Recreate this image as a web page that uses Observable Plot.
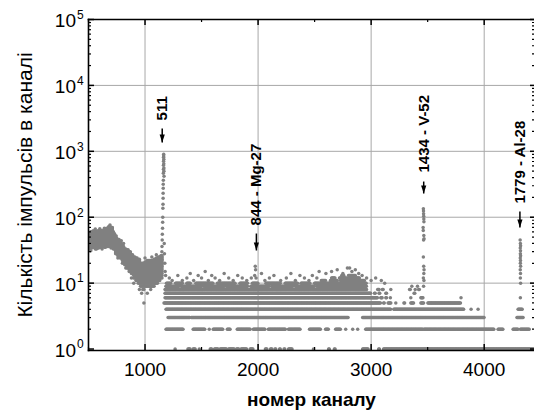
<!DOCTYPE html>
<html><head><meta charset="utf-8">
<script src="https://cdn.jsdelivr.net/npm/d3@7"></script>
<script src="https://cdn.jsdelivr.net/npm/@observablehq/plot@0.6"></script>
<style>
html,body{margin:0;padding:0;background:#fff;}
#chart svg{display:block;}
</style>
</head><body><div id="chart"></div>
<script>
// ---------- data ----------
const xTicks = [1000, 2000, 3000, 4000];
const xMinorTicks = [500, 1500, 2500, 3500];
const yTicks = [1, 10, 100, 1000, 10000, 100000];
const xTitle = "номер каналу";
const yTitle = "Кількість імпульсів в каналі";

// dense continuum below the 511 peak: channel bins with the low / high count of the dot cloud
const blobChannels = [500,520,540,560,580,600,620,640,660,680,700,720,740,760,780,800,820,840,860,880,900,920,940,960,980,1000,1020,1040,1060,1080,1100,1120,1140];
const blobLow  = [33,34,35,33,34,35,36,35,36,36,38,33,28,26,24,22,19,17,15,14,12,11,10, 9, 8, 9, 9, 9, 9,10,10,11,12];
const blobHigh = [58,60,62,60,62,63,62,64,68,72,70,56,48,44,40,36,33,32,30,27,25,24,22,20,20,21,22,22,22,23,24,25,26];
const blobOutliers = [[560,66],[600,67],[640,68],[690,76],[720,60],[745,52],[770,46],[790,44],[810,40],[760,24],[800,20],[830,17],[880,12],[900,10],[950,8],[970,7],[990,5],[1020,7],[1050,8],[1080,9],[1100,27],[1060,25],[1000,24],[950,23],[520,31],[620,33],[700,34]];

// integer count levels and the channel runs where dots of that level appear
const levelCounts = [1,2,3,4,5,6,7,8,9,10,11,12,13];
const levelRuns = [
  [[1266,1266],[1380,1400],[1425,1444],[1480,1480],[1577,1590],[1615,1650],[1665,1720],[1740,1790],[1810,1830],[1850,1900],[1930,1958],[2065,2080],[2110,2125],[2150,2160],[2190,2200],[2230,2240],[2270,2304],[2490,2490],[2624,2635],[2675,2686],[2925,2975],[3067,3075],[3110,4440]],
  [[1186,1337],[1426,1532],[1568,1568],[1603,1692],[1728,1754],[1816,1932],[1958,2065],[2091,2242],[2269,2375],[2455,2553],[2597,2624],[2686,2730],[2775,2775],[2837,2837],[2881,2881],[2952,3458],[3467,4088],[4123,4168],[4256,4300],[4320,4398]],
  [[1204,1400],[1410,2801],[2925,3999],[4290,4345]],
  [[1186,3174],[3200,3822],[3884,3884],[3946,3946],[4300,4340]],
  [[1168,3085],[3110,3120],[3150,3174],[3218,3218],[3290,3300],[3351,3378],[3440,3467],[3502,3795]],
  [[1177,3058],[3085,3100],[3130,3140],[3170,3174],[3351,3351],[3440,3460],[3795,3795]],
  [[1177,2996],[3030,3040],[3070,3080],[3130,3140],[3380,3390]],
  [[1177,2960],[3058,3070],[3100,3110],[3174,3174],[3340,3350],[3420,3430]],
  [[1185,1300],[1320,1500],[1520,1700],[1720,1910],[1935,2100],[2120,2310],[2330,2500],[2520,2960]],
  [[1190,1230],[1270,1330],[1370,1400],[1450,1600],[1640,1800],[1840,1910],[1950,2000],[2070,2200],[2240,2350],[2380,2460],[2500,2960]],
  [[2560,2600],[2640,2700],[2730,2940]],
  [[2650,2680],[2720,2780],[2800,2900]],
  [[2740,2760],[2800,2860]]
];
// scattered dots above the bands
const scatterPoints = [[1215,12],[1240,11],[1290,13],[1330,11],[1370,12],[1400,14],[1430,11],[1470,13],[1500,12],[1532,15],[1560,11],[1590,13],[1620,12],[1660,11],[1700,14],[1740,12],[1780,11],[1820,13],[1860,12],[1900,11],[1940,12],[2030,14],[2060,11],[2100,12],[2140,13],[2200,11],[2250,12],[2290,14],[2330,11],[2370,13],[2410,12],[2450,11],[2480,13],[2520,12],[2540,15],[2600,14],[2650,15],[2700,16],[2750,14],[2790,17],[2810,17],[2830,15],[2860,16],[2890,14],[2920,13],[2960,12],[3000,11],[3040,12],[3090,11],[3120,10],[3360,9],[3390,8],[3410,9]];
// peaks
const peak511 = [[1140,20],[1143,22],[1146,26],[1149,30],[1150,36],[1152,45],[1153,55],[1155,68],[1156,84],[1157,100],[1158,137],[1159,157],[1160,194],[1160,232],[1161,275],[1161,316],[1162,364],[1162,464],[1163,534],[1163,614],[1164,705],[1164,811],[1165,900],[1165,850],[1166,760],[1166,650],[1167,560],[1167,500],[1168,420],[1170,40],[1172,28],[1175,20],[1178,15],[1182,13]];
const peak844 = [[1970,13],[1975,18],[1978,16],[1982,12]];
const peak1434 = [[3462,135],[3463,124],[3464,113],[3465,103],[3466,94],[3467,85],[3460,70],[3461,63],[3466,53],[3468,47],[3464,45],[3462,25],[3465,18],[3468,16],[3466,14],[3462,12],[3467,11],[3464,9]];
const peak1779 = [[4318,45],[4320,40],[4322,37],[4319,34],[4321,31],[4320,28],[4322,26],[4319,24],[4321,22],[4320,20],[4322,18],[4319,16],[4321,14],[4320,12],[4322,10],[4320,6]];

// annotations
const annLabels   = ["511", "844 - Mg-27", "1434 - V-52", "1779 - Al-28"];
const annChannels = [1152, 1985, 3465, 4316];
const annTextAt   = [2940, 75, 477, 161];
const annArrowTop = [2218, 56.6, 348, 122];
const annArrowTip = [1361, 31.3, 229, 69.9];

// ---------- build tables ----------
const pts = [];
blobChannels.forEach((c, i) => {
  for (const off of [0, 10]) for (let v = blobLow[i]; v <= blobHigh[i]; v++) pts.push({ch: c + off, n: v});
});
for (const [c, n] of blobOutliers) pts.push({ch: c, n});
levelCounts.forEach((n, i) => {
  for (const [a, b] of levelRuns[i]) for (let c = a; c <= b; c += 6) pts.push({ch: c, n});
});
for (const arr of [scatterPoints, peak511, peak844, peak1434, peak1779]) for (const [c, n] of arr) pts.push({ch: c, n});

const anns = annLabels.map((label, i) => ({label, ch: annChannels[i], t: annTextAt[i], a: annArrowTop[i], b: annArrowTip[i]}));

const yMinor = [];
for (const d of [1, 10, 100, 1000, 10000]) for (let k = 2; k <= 9; k++) yMinor.push(d * k);

const arrowHead = {draw(ctx) { ctx.moveTo(0, 0); ctx.lineTo(-2.6, -8); ctx.lineTo(2.6, -8); ctx.closePath(); }};

const W = 534, H = 414, ML = 88, MR = 0, MT = 19, MB = 64;
const innerW = W - ML - MR, innerH = H - MT - MB;

const chart = Plot.plot({
  width: W, height: H, marginLeft: ML, marginRight: MR, marginTop: MT, marginBottom: MB,
  style: {fontFamily: "'Liberation Sans', Arial, Helvetica, sans-serif", background: "white", color: "black"},
  x: {domain: [500, 4445], axis: null},
  y: {type: "log", domain: [0.95, 1e5], axis: null},
  marks: [
    Plot.ruleX(xTicks, {x: d => d, stroke: "#a8a8a8", strokeWidth: 1}),
    Plot.ruleY(yTicks.filter(d => d > 1 && d < 1e5), {y: d => d, stroke: "#a8a8a8", strokeWidth: 1}),
    Plot.dot(pts, {x: "ch", y: "n", r: 1.75, fill: "#808080", clip: true}),
    // ticks (inward) on all four sides
    Plot.tickX(xTicks, {x: d => d, insetTop: innerH - 6, strokeWidth: 1.5}),
    Plot.tickX(xMinorTicks, {x: d => d, insetTop: innerH - 3, strokeWidth: 1.2}),
    Plot.tickX(xTicks, {x: d => d, insetBottom: innerH - 6, strokeWidth: 1.5}),
    Plot.tickX(xMinorTicks, {x: d => d, insetBottom: innerH - 3, strokeWidth: 1.2}),
    Plot.tickY(yTicks, {y: d => d, insetRight: innerW - 6, strokeWidth: 1.5}),
    Plot.tickY(yMinor, {y: d => d, insetRight: innerW - 3, strokeWidth: 1.2}),
    Plot.tickY(yTicks, {y: d => d, insetLeft: innerW - 4, strokeWidth: 1.5}),
    Plot.tickY(yMinor, {y: d => d, insetLeft: innerW - 2, strokeWidth: 1.2}),
    Plot.frame({anchor: "top", stroke: "black", strokeWidth: 1.6}),
    Plot.frame({anchor: "bottom", stroke: "black", strokeWidth: 1.6}),
    Plot.frame({anchor: "left", stroke: "black", strokeWidth: 1.6}),
    // x tick labels and title
    Plot.text(xTicks, {x: d => d, frameAnchor: "bottom", dy: 19, text: d => String(d), fontSize: 19, lineAnchor: "middle"}),
    Plot.text([xTitle], {frameAnchor: "bottom", dy: 49, text: d => d, fontSize: 19, fontWeight: "bold", lineAnchor: "middle", textAnchor: "middle"}),
    // y tick labels 10^n
    Plot.text(yTicks, {y: d => d, frameAnchor: "left", dx: -12.5, dy: 1.5, text: () => "10", textAnchor: "end", fontSize: 19, lineAnchor: "middle"}),
    Plot.text(yTicks, {y: d => d, frameAnchor: "left", dx: -11.5, dy: -4.5, text: d => String(Math.round(Math.log10(d))), textAnchor: "start", fontSize: 12, lineAnchor: "middle"}),
    Plot.text([yTitle], {frameAnchor: "left", dx: -63, text: d => d, rotate: -90, fontSize: 21, lineAnchor: "middle", textAnchor: "middle"}),
    // annotations
    Plot.link(anns, {x1: "ch", x2: "ch", y1: "a", y2: "b", stroke: "black", strokeWidth: 1.5}),
    Plot.dot(anns, {x: "ch", y: "b", symbol: arrowHead, fill: "black", stroke: "none", r: 3}),
    Plot.text(anns, {x: "ch", y: "t", text: "label", rotate: -90, textAnchor: "start", lineAnchor: "middle", fontSize: 15, fontWeight: "bold"})
  ]
});
document.getElementById("chart").appendChild(chart);
</script>
</body></html>
